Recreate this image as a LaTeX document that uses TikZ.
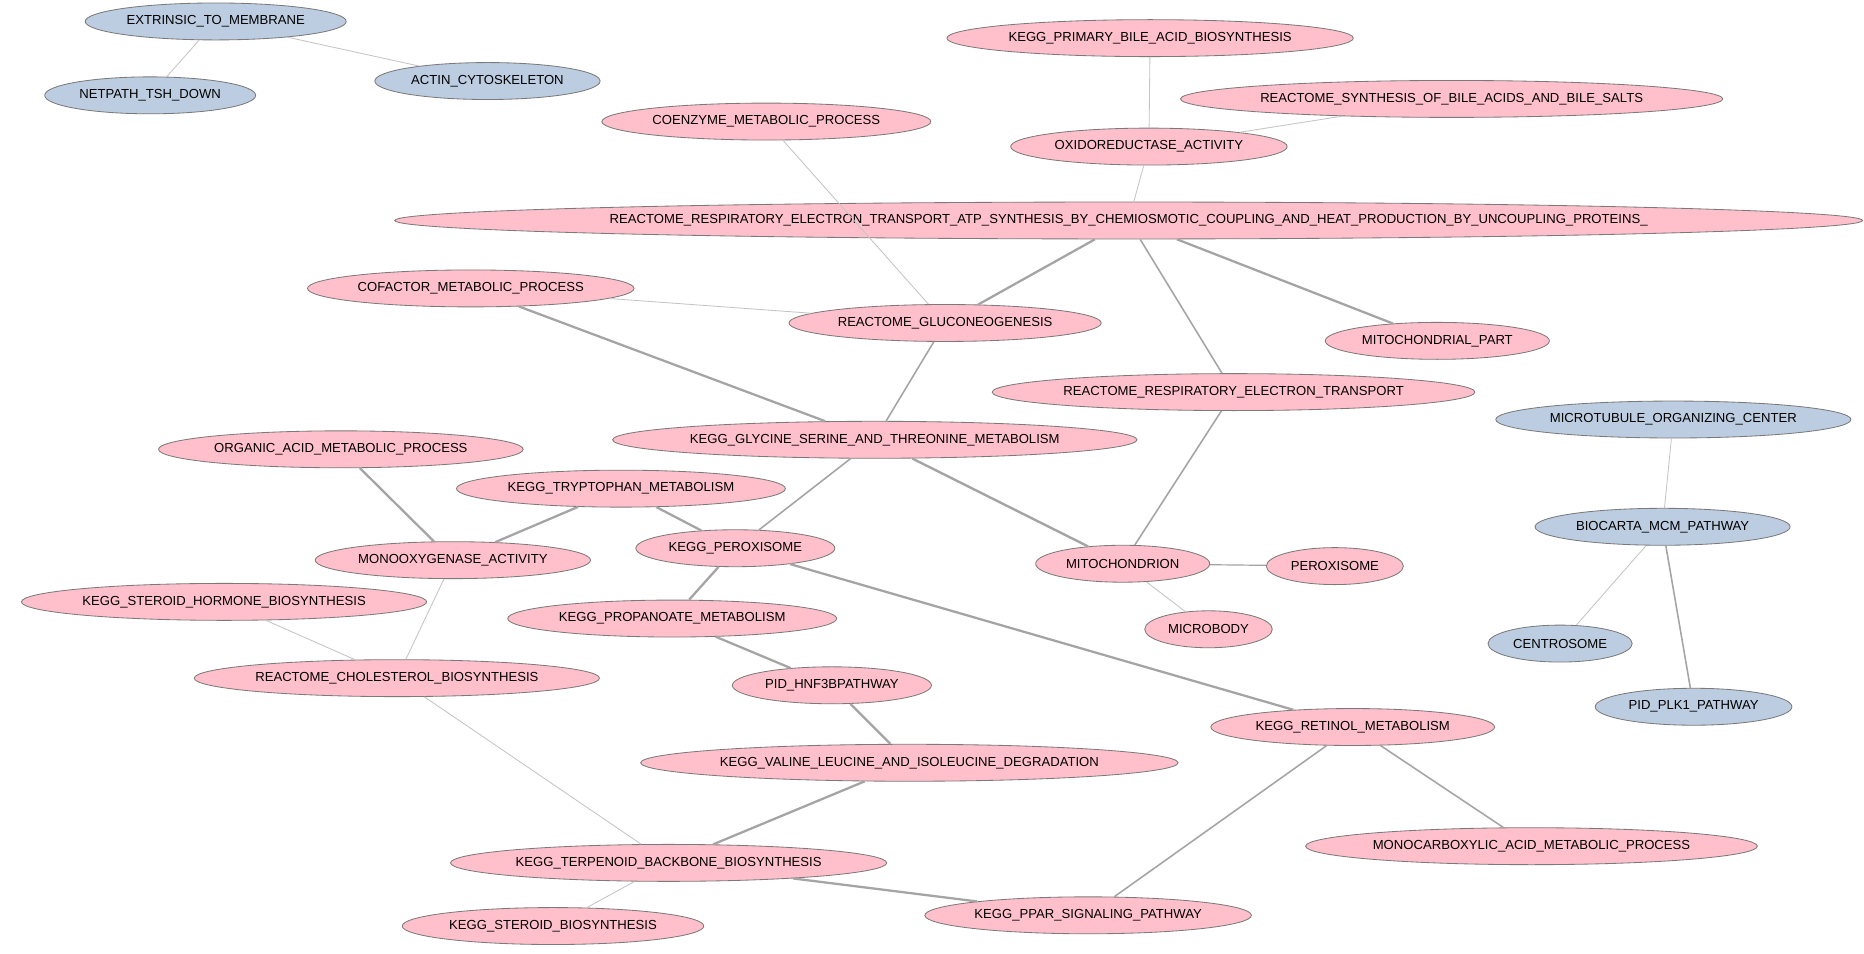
\documentclass[tikz,border=0pt]{standalone}
\usepackage{fontspec}
\setmainfont{Liberation Sans}
\usetikzlibrary{shapes.geometric}
\definecolor{pinkfill}{HTML}{FFC0CB}
\definecolor{bluefill}{HTML}{BDCDE1}
\definecolor{nodeborder}{HTML}{7A7A7A}
\definecolor{edgegray}{HTML}{A4A4A4}
\definecolor{edgelight}{HTML}{C4C4C4}
\begin{document}
\begin{tikzpicture}[x=1pt,y=-1pt,
  gn/.style={ellipse, draw=nodeborder, line width=0.7pt, minimum height=31pt, inner sep=0pt, font=\fontsize{11}{13}\selectfont},
  pk/.style={gn, fill=pinkfill},
  bl/.style={gn, fill=bluefill},
  ethin/.style={draw=edgelight, line width=0.7pt},
  emid/.style={draw=edgegray, line width=1.3pt},
  ethick/.style={draw=edgegray, line width=1.9pt}]
\fill[white] (0,0) rectangle (1564,800);
\useasboundingbox (0,0) rectangle (1564,800);
% blue nodes
\node[bl, minimum width=219pt] (ext) at (181,18) {EXTRINSIC\_TO\_MEMBRANE};
\node[bl, minimum width=177pt] (net) at (126,80) {NETPATH\_TSH\_DOWN};
\node[bl, minimum width=189pt] (act) at (409,68) {ACTIN\_CYTOSKELETON};
\node[bl, minimum width=298pt] (mtoc) at (1404,352) {MICROTUBULE\_ORGANIZING\_CENTER};
\node[bl, minimum width=214pt] (mcm) at (1395,442) {BIOCARTA\_MCM\_PATHWAY};
\node[bl, minimum width=121pt] (cen) at (1309,540) {CENTROSOME};
\node[bl, minimum width=165pt] (plk) at (1421,593) {PID\_PLK1\_PATHWAY};
% pink nodes
\node[pk, minimum width=341pt] (pba) at (965,32) {KEGG\_PRIMARY\_BILE\_ACID\_BIOSYNTHESIS};
\node[pk, minimum width=455pt] (sba) at (1218,83) {REACTOME\_SYNTHESIS\_OF\_BILE\_ACIDS\_AND\_BILE\_SALTS};
\node[pk, minimum width=232pt] (oxi) at (964,123) {OXIDOREDUCTASE\_ACTIVITY};
\node[pk, minimum width=276pt] (coe) at (643,102) {COENZYME\_METABOLIC\_PROCESS};
\node[pk, minimum width=1207pt] (long) at (947,185) {REACTOME\_RESPIRATORY\_ELECTRON\_TRANSPORT\_ATP\_SYNTHESIS\_BY\_CHEMIOSMOTIC\_COUPLING\_AND\_HEAT\_PRODUCTION\_BY\_UNCOUPLING\_PROTEINS\_};
\node[pk, minimum width=274pt] (cof) at (395,242) {COFACTOR\_METABOLIC\_PROCESS};
\node[pk, minimum width=262pt] (glu) at (793,271) {REACTOME\_GLUCONEOGENESIS};
\node[pk, minimum width=188pt] (mip) at (1206,286) {MITOCHONDRIAL\_PART};
\node[pk, minimum width=405pt] (ret) at (1035,329) {REACTOME\_RESPIRATORY\_ELECTRON\_TRANSPORT};
\node[pk, minimum width=440pt] (gly) at (734,369) {KEGG\_GLYCINE\_SERINE\_AND\_THREONINE\_METABOLISM};
\node[pk, minimum width=306pt] (org) at (286,377) {ORGANIC\_ACID\_METABOLIC\_PROCESS};
\node[pk, minimum width=276pt] (try) at (521,410) {KEGG\_TRYPTOPHAN\_METABOLISM};
\node[pk, minimum width=231pt] (mon) at (380,470) {MONOOXYGENASE\_ACTIVITY};
\node[pk, minimum width=167pt] (kpx) at (617,460) {KEGG\_PEROXISOME};
\node[pk, minimum width=146pt] (mit) at (942,473) {MITOCHONDRION};
\node[pk, minimum width=115pt] (per) at (1120,475) {PEROXISOME};
\node[pk, minimum width=107pt] (mib) at (1014,528) {MICROBODY};
\node[pk, minimum width=340pt] (shb) at (188,505) {KEGG\_STEROID\_HORMONE\_BIOSYNTHESIS};
\node[pk, minimum width=276pt] (pro) at (564,519) {KEGG\_PROPANOATE\_METABOLISM};
\node[pk, minimum width=340pt] (cho) at (333,569) {REACTOME\_CHOLESTEROL\_BIOSYNTHESIS};
\node[pk, minimum width=167pt] (hnf) at (698,575) {PID\_HNF3BPATHWAY};
\node[pk, minimum width=238pt] (rtn) at (1135,610) {KEGG\_RETINOL\_METABOLISM};
\node[pk, minimum width=451pt] (val) at (763,640) {KEGG\_VALINE\_LEUCINE\_AND\_ISOLEUCINE\_DEGRADATION};
\node[pk, minimum width=379pt] (mca) at (1285,710) {MONOCARBOXYLIC\_ACID\_METABOLIC\_PROCESS};
\node[pk, minimum width=366pt] (ter) at (561,724) {KEGG\_TERPENOID\_BACKBONE\_BIOSYNTHESIS};
\node[pk, minimum width=253pt] (stb) at (464,777) {KEGG\_STEROID\_BIOSYNTHESIS};
\node[pk, minimum width=274pt] (ppa) at (913,768) {KEGG\_PPAR\_SIGNALING\_PATHWAY};
% edges
\draw[ethin] (ext) -- (net);
\draw[ethin] (ext) -- (act);
\draw[ethin] (pba) -- (oxi);
\draw[ethin] (sba) -- (oxi);
\draw[ethin] (oxi) -- (long);
\draw[ethin] (coe) -- (glu);
\draw[ethick] (long) -- (glu);
\draw[ethick] (long) -- (mip);
\draw[emid] (long) -- (ret);
\draw[ethin] (cof) -- (glu);
\draw[ethick] (cof) -- (gly);
\draw[emid] (glu) -- (gly);
\draw[emid] (ret) -- (mit);
\draw[emid] (gly) -- (kpx);
\draw[ethick] (gly) -- (mit);
\draw[ethick] (org) -- (mon);
\draw[ethick] (try) -- (mon);
\draw[ethick] (try) -- (kpx);
\draw[ethick] (kpx) -- (pro);
\draw[ethick] (kpx) -- (rtn);
\draw[emid, line width=1pt] (mit) -- (per);
\draw[ethin] (mit) -- (mib);
\draw[ethin] (mon) -- (cho);
\draw[ethin] (shb) -- (cho);
\draw[ethick] (pro) -- (hnf);
\draw[ethick] (hnf) -- (val);
\draw[ethin] (cho) -- (ter);
\draw[ethick] (val) -- (ter);
\draw[ethin] (ter) -- (stb);
\draw[ethick] (ter) -- (ppa);
\draw[emid] (rtn) -- (ppa);
\draw[emid] (rtn) -- (mca);
\draw[ethin] (mtoc) -- (mcm);
\draw[ethin] (mcm) -- (cen);
\draw[emid] (mcm) -- (plk);
\end{tikzpicture}
\end{document}
